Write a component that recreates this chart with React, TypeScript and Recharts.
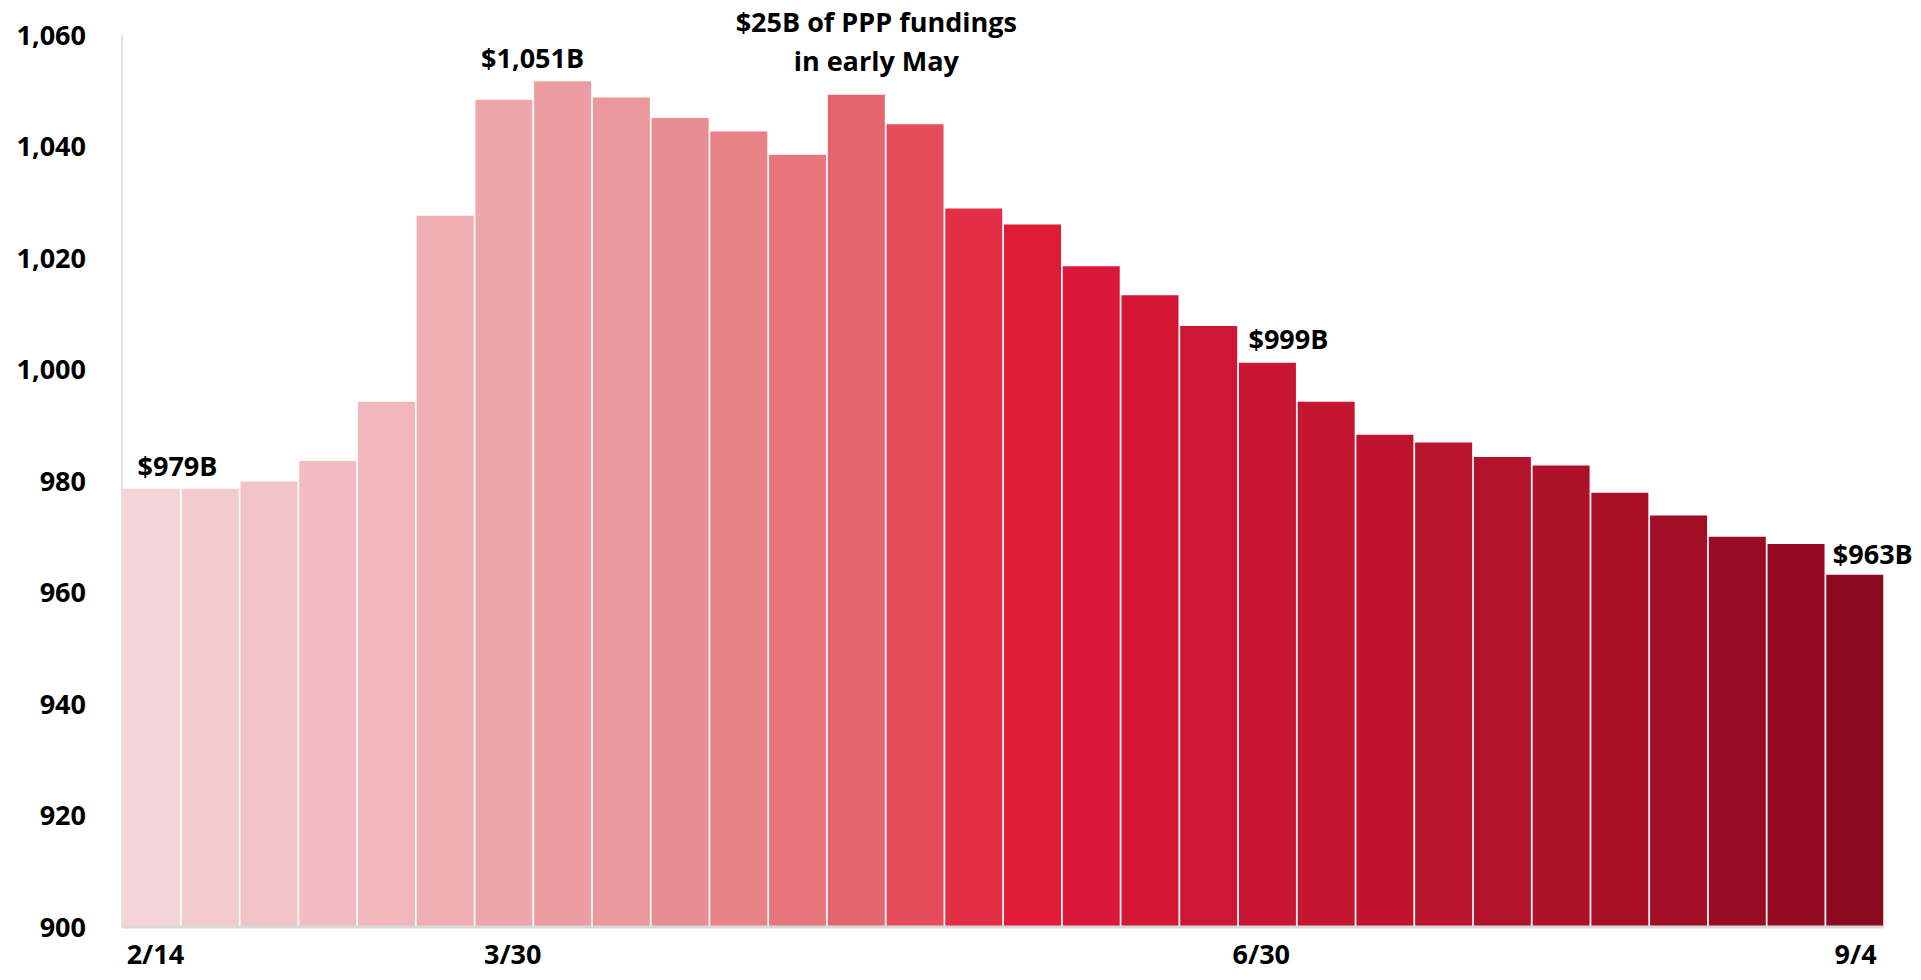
import { Bar, BarChart, Cell, LabelList, XAxis, YAxis } from 'recharts'

// weekly balances, $B
const weeks = Array.from({ length: 30 }, (_, i) => i)
const tickLabels: Record<number, string> = { 0: '2/14', 6: '3/30', 19: '6/30', 29: '9/4' }
const balances = [
  978.6, 978.6, 979.9, 983.6, 994.2, 1027.6, 1048.4, 1051.7, 1048.8, 1045.1,
  1042.7, 1038.5, 1049.3, 1044.0, 1028.9, 1026.0, 1018.5, 1013.3, 1007.8, 1001.2,
  994.2, 988.3, 986.9, 984.3, 982.8, 977.9, 973.8, 970.0, 968.7, 963.2,
]
const yTicks = [900, 920, 940, 960, 980, 1000, 1020, 1040, 1060]

const annotations: Record<number, string[]> = {
  0: ['$979B'],
  7: ['$1,051B'],
  12: ['$25B of PPP fundings', 'in early May'],
  19: ['$999B'],
  29: ['$963B'],
}
// label offsets from bar centre / top
const annotationOffset: Record<number, { dx: number; dy: number }> = {
  0: { dx: 26, dy: -13 },
  7: { dx: -30, dy: -13 },
  12: { dx: 20, dy: -24 },
  19: { dx: 21, dy: -14 },
  29: { dx: 18, dy: -11 },
}
// small nudges so the date ticks sit where the original put them
const tickNudge: Record<number, number> = { 0: 4, 6: 9, 19: -6, 29: 1 }

const palette = [
  '#f5d3d7', '#f3cacd', '#f3c4c7', '#f2bcc0', '#f1b7bb', '#efafb2', '#eda6a9', '#ec9da1', '#eb989c', '#ea8d92',
  '#e88287', '#e77579', '#e6656d', '#e54d5a', '#e32e45', '#e01b36', '#da1838', '#d51734', '#cf1733', '#c91631',
  '#c6152f', '#c0142d', '#bb142c', '#b3122b', '#ae1129', '#a80f27', '#a10e26', '#990c23', '#940b21', '#8b0a1f',
]

const FONT = '"Open Sans", sans-serif'

const data = weeks.map((idx) => ({ idx, value: balances[idx] }))

function AnnotationLabel(props: any) {
  const { x, y, width, index } = props
  const lines = annotations[index]
  if (!lines) return null
  const off = annotationOffset[index]
  const cx = Number(x) + Number(width) / 2 + off.dx
  const lineH = 39
  return (
    <g>
      {lines.map((line, i) => (
        <text
          key={i}
          x={cx}
          y={Number(y) + off.dy - (lines.length - 1 - i) * lineH}
          textAnchor="middle"
          fill="#000"
          fontFamily={FONT}
          fontWeight={700}
          fontSize={27}
        >
          {line}
        </text>
      ))}
    </g>
  )
}

function DateTick(props: any) {
  const { x, y, payload } = props
  const label = tickLabels[payload.value as number]
  if (!label) return null
  return (
    <text
      x={Number(x) + (tickNudge[payload.value as number] ?? 0)}
      y={Number(y)}
      dy="0.71em"
      textAnchor="middle"
      fill="#000"
      fontFamily={FONT}
      fontWeight={700}
      fontSize={27}
    >
      {label}
    </text>
  )
}

export default function App() {
  return (
    <div style={{ position: 'absolute', left: 0, top: 0, width: 1921, height: 980, background: '#fff' }}>
      <BarChart
        width={1921}
        height={980}
        data={data}
        margin={{ top: 35, right: 37, bottom: 3, left: 0 }}
        barCategoryGap={1}
      >
        <XAxis
          dataKey="idx"
          type="category"
          interval={0}
          axisLine={{ stroke: '#d9d9d9', strokeWidth: 3 }}
          tickLine={false}
          height={50}
          tickMargin={12}
          tick={<DateTick />}
        />
        <YAxis
          type="number"
          domain={[900, 1060]}
          ticks={yTicks}
          allowDataOverflow
          tickFormatter={(v) => Number(v).toLocaleString('en-US')}
          axisLine={{ stroke: '#d9d9d9', strokeWidth: 1.5 }}
          tickLine={false}
          width={122}
          tickMargin={30}
          tick={{ fill: '#000', fontFamily: FONT, fontWeight: 700, fontSize: 27 }}
        />
        <Bar dataKey="value" isAnimationActive={false}>
          {data.map((d) => (
            <Cell key={d.idx} fill={palette[d.idx]} />
          ))}
          <LabelList dataKey="value" content={<AnnotationLabel />} />
        </Bar>
      </BarChart>
    </div>
  )
}
